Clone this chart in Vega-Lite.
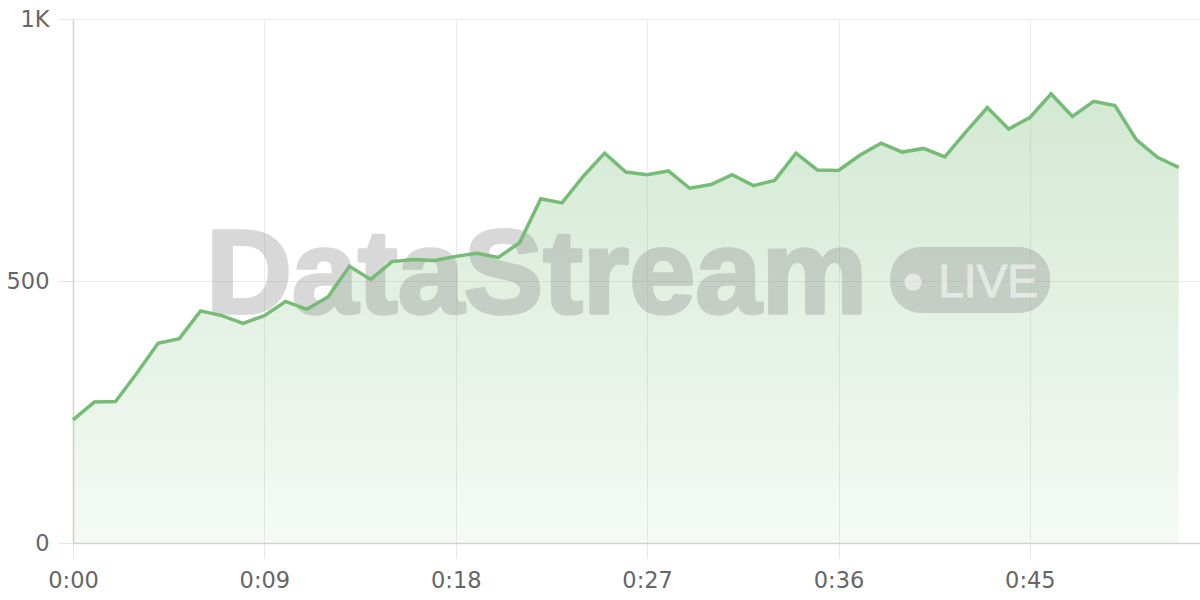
{
  "$schema": "https://vega.github.io/schema/vega-lite/v6.json",
  "autosize": "none",
  "width": 1127,
  "height": 524,
  "padding": {"left": 73, "top": 19, "right": 0, "bottom": 57},
  "background": "#ffffff",
  "config": {
    "view": {"stroke": null},
    "axis": {
      "labelFont": "DejaVu Sans",
      "labelFontSize": 22.5,
      "labelColor": "#666666",
      "gridColor": "#ebebeb",
      "gridWidth": 1,
      "tickColor": "#e6e6e6",
      "tickSize": 15,
      "domainColor": "#d2d2d2",
      "domainWidth": 1.5,
      "labelFlush": false,
      "title": null
    }
  },
  "data": {
    "values": [
      {"t": 0, "v": 235}, {"t": 1, "v": 269}, {"t": 2, "v": 270}, {"t": 3, "v": 324},
      {"t": 4, "v": 381}, {"t": 5, "v": 390}, {"t": 6, "v": 443}, {"t": 7, "v": 434},
      {"t": 8, "v": 419}, {"t": 9, "v": 434}, {"t": 10, "v": 461}, {"t": 11, "v": 446},
      {"t": 12, "v": 470}, {"t": 13, "v": 528}, {"t": 14, "v": 503}, {"t": 15, "v": 537},
      {"t": 16, "v": 541}, {"t": 17, "v": 539}, {"t": 18, "v": 547}, {"t": 19, "v": 553},
      {"t": 20, "v": 545}, {"t": 21, "v": 573}, {"t": 22, "v": 657}, {"t": 23, "v": 649},
      {"t": 24, "v": 700}, {"t": 25, "v": 744}, {"t": 26, "v": 708}, {"t": 27, "v": 703},
      {"t": 28, "v": 710}, {"t": 29, "v": 677}, {"t": 30, "v": 684}, {"t": 31, "v": 703},
      {"t": 32, "v": 682}, {"t": 33, "v": 692}, {"t": 34, "v": 744}, {"t": 35, "v": 712},
      {"t": 36, "v": 711}, {"t": 37, "v": 740}, {"t": 38, "v": 763}, {"t": 39, "v": 746},
      {"t": 40, "v": 753}, {"t": 41, "v": 737}, {"t": 42, "v": 785}, {"t": 43, "v": 831},
      {"t": 44, "v": 790}, {"t": 45, "v": 812}, {"t": 46, "v": 857}, {"t": 47, "v": 814},
      {"t": 48, "v": 843}, {"t": 49, "v": 835}, {"t": 50, "v": 770}, {"t": 51, "v": 736},
      {"t": 52, "v": 717}
    ]
  },
  "layer": [
    {
      "mark": {
        "type": "area",
        "line": false,
        "fill": {
          "x1": 0, "y1": 0, "x2": 0, "y2": 1,
          "gradient": "linear",
          "stops": [
            {"offset": 0, "color": "rgba(118,185,118,0.32)"},
            {"offset": 1, "color": "rgba(118,185,118,0.07)"}
          ]
        }
      },
      "encoding": {
        "x": {
          "field": "t", "type": "quantitative",
          "scale": {"domain": [0, 53], "nice": false, "zero": false},
          "axis": {
            "values": [0, 9, 18, 27, 36, 45],
            "labelExpr": "floor(datum.value/60) + ':' + (datum.value % 60 < 10 ? '0' : '') + (datum.value % 60)",
            "labelPadding": 11,
            "grid": true
          }
        },
        "y": {
          "field": "v", "type": "quantitative",
          "scale": {"domain": [0, 1000], "nice": false},
          "axis": {
            "values": [0, 500, 1000],
            "labelExpr": "datum.value >= 1000 ? (datum.value/1000) + 'K' : datum.value",
            "labelPadding": 9,
            "grid": true
          }
        }
      }
    },
    {
      "data": {"values": [{}]},
      "mark": {"type": "text", "font": "Liberation Sans", "fontWeight": "bold", "fontSize": 119, "align": "left", "baseline": "alphabetic", "color": "#8a8a8a", "stroke": "#8a8a8a", "strokeWidth": 3.5, "strokeJoin": "round", "opacity": 0.33},
      "encoding": {
        "x": {"datum": 6.25, "type": "quantitative"},
        "y": {"datum": 439, "type": "quantitative"},
        "text": {"value": "DataStream"}
      }
    },
    {
      "data": {"values": [{}]},
      "mark": {"type": "rect", "cornerRadius": 31, "color": "#8a8a8a", "opacity": 0.33},
      "encoding": {
        "x": {"datum": 38.43, "type": "quantitative"},
        "x2": {"datum": 45.95},
        "y": {"datum": 565, "type": "quantitative"},
        "y2": {"datum": 439}
      }
    },
    {
      "data": {"values": [{}]},
      "mark": {"type": "point", "filled": true, "shape": "circle", "size": 300, "color": "#ffffff", "opacity": 0.55},
      "encoding": {
        "x": {"datum": 39.51, "type": "quantitative"},
        "y": {"datum": 498, "type": "quantitative"}
      }
    },
    {
      "data": {"values": [{}]},
      "mark": {"type": "text", "font": "Liberation Sans", "fontSize": 46, "align": "left", "baseline": "alphabetic", "color": "#ffffff", "stroke": "#ffffff", "strokeWidth": 1, "opacity": 0.55},
      "encoding": {
        "x": {"datum": 40.69, "type": "quantitative"},
        "y": {"datum": 469, "type": "quantitative"},
        "text": {"value": "LIVE"}
      }
    },
    {
      "mark": {"type": "line", "color": "#76bb76", "strokeWidth": 3.5, "strokeJoin": "miter"},
      "encoding": {
        "x": {"field": "t", "type": "quantitative"},
        "y": {"field": "v", "type": "quantitative"}
      }
    }
  ]
}
